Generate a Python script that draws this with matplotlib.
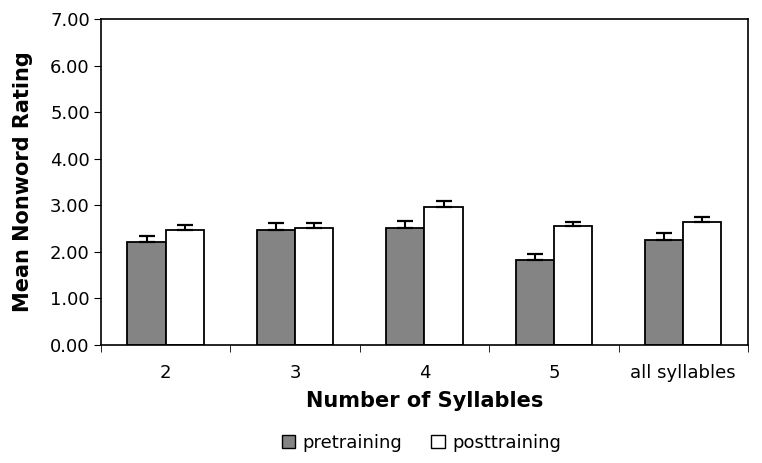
import matplotlib
matplotlib.use("Agg")
import matplotlib.pyplot as plt
import numpy as np
from matplotlib.patches import Patch

categories = ["2", "3", "4", "5", "all syllables"]
pretraining = [2.21, 2.47, 2.52, 1.82, 2.25]
posttraining = [2.47, 2.52, 2.96, 2.56, 2.65]
pre_err = [0.14, 0.14, 0.14, 0.13, 0.15]
post_err = [0.11, 0.10, 0.14, 0.09, 0.10]
yticks = [0, 1, 2, 3, 4, 5, 6, 7]

plt.rcParams['font.family'] = ['DejaVu Sans']

fig = plt.figure(figsize=(7.62, 4.63), dpi=100)
ax = fig.add_axes([0.1325, 0.2549, 0.849, 0.704])

x = np.arange(len(categories))
w = 0.295
ekw = dict(ecolor="black", elinewidth=1.5, capsize=5.5, capthick=1.6)
ax.bar(x - w/2, pretraining, w, color="#848484", edgecolor="black", linewidth=1.3,
       yerr=[np.zeros(len(x)), pre_err], error_kw=ekw)
ax.bar(x + w/2, posttraining, w, color="white", edgecolor="black", linewidth=1.3,
       yerr=[np.zeros(len(x)), post_err], error_kw=ekw)

ax.set_xlim(-0.5, len(categories) - 0.5)
ax.set_ylim(0, 7)
ax.set_yticks(yticks)
ax.set_yticklabels([f"{v:.2f}" for v in yticks], fontsize=13)
ax.set_xticks(x)
ax.set_xticklabels(categories, fontsize=13)
ax.tick_params(axis='x', length=0, pad=14)
ax.set_xticks(np.arange(len(categories) + 1) - 0.5, minor=True)
ax.tick_params(axis='x', which='minor', length=5, direction='out')
ax.tick_params(axis='y', length=5, direction='out', pad=3)
for s in ax.spines.values():
    s.set_linewidth(1.2)

ax.set_ylabel("Mean Nonword Rating", fontsize=15, fontweight='bold', labelpad=12)
ax.set_xlabel("Number of Syllables", fontsize=15, fontweight='bold', labelpad=6)

handles = [Patch(facecolor="#848484", edgecolor="black", label="pretraining"),
           Patch(facecolor="white", edgecolor="black", label="posttraining")]
fig.legend(handles=handles, loc='center', bbox_to_anchor=(0.553, 0.043), ncol=2, frameon=False,
           fontsize=13, handlelength=0.75, handleheight=0.75, handletextpad=0.4, columnspacing=1.6)

fig.savefig("out.png", dpi=100)
